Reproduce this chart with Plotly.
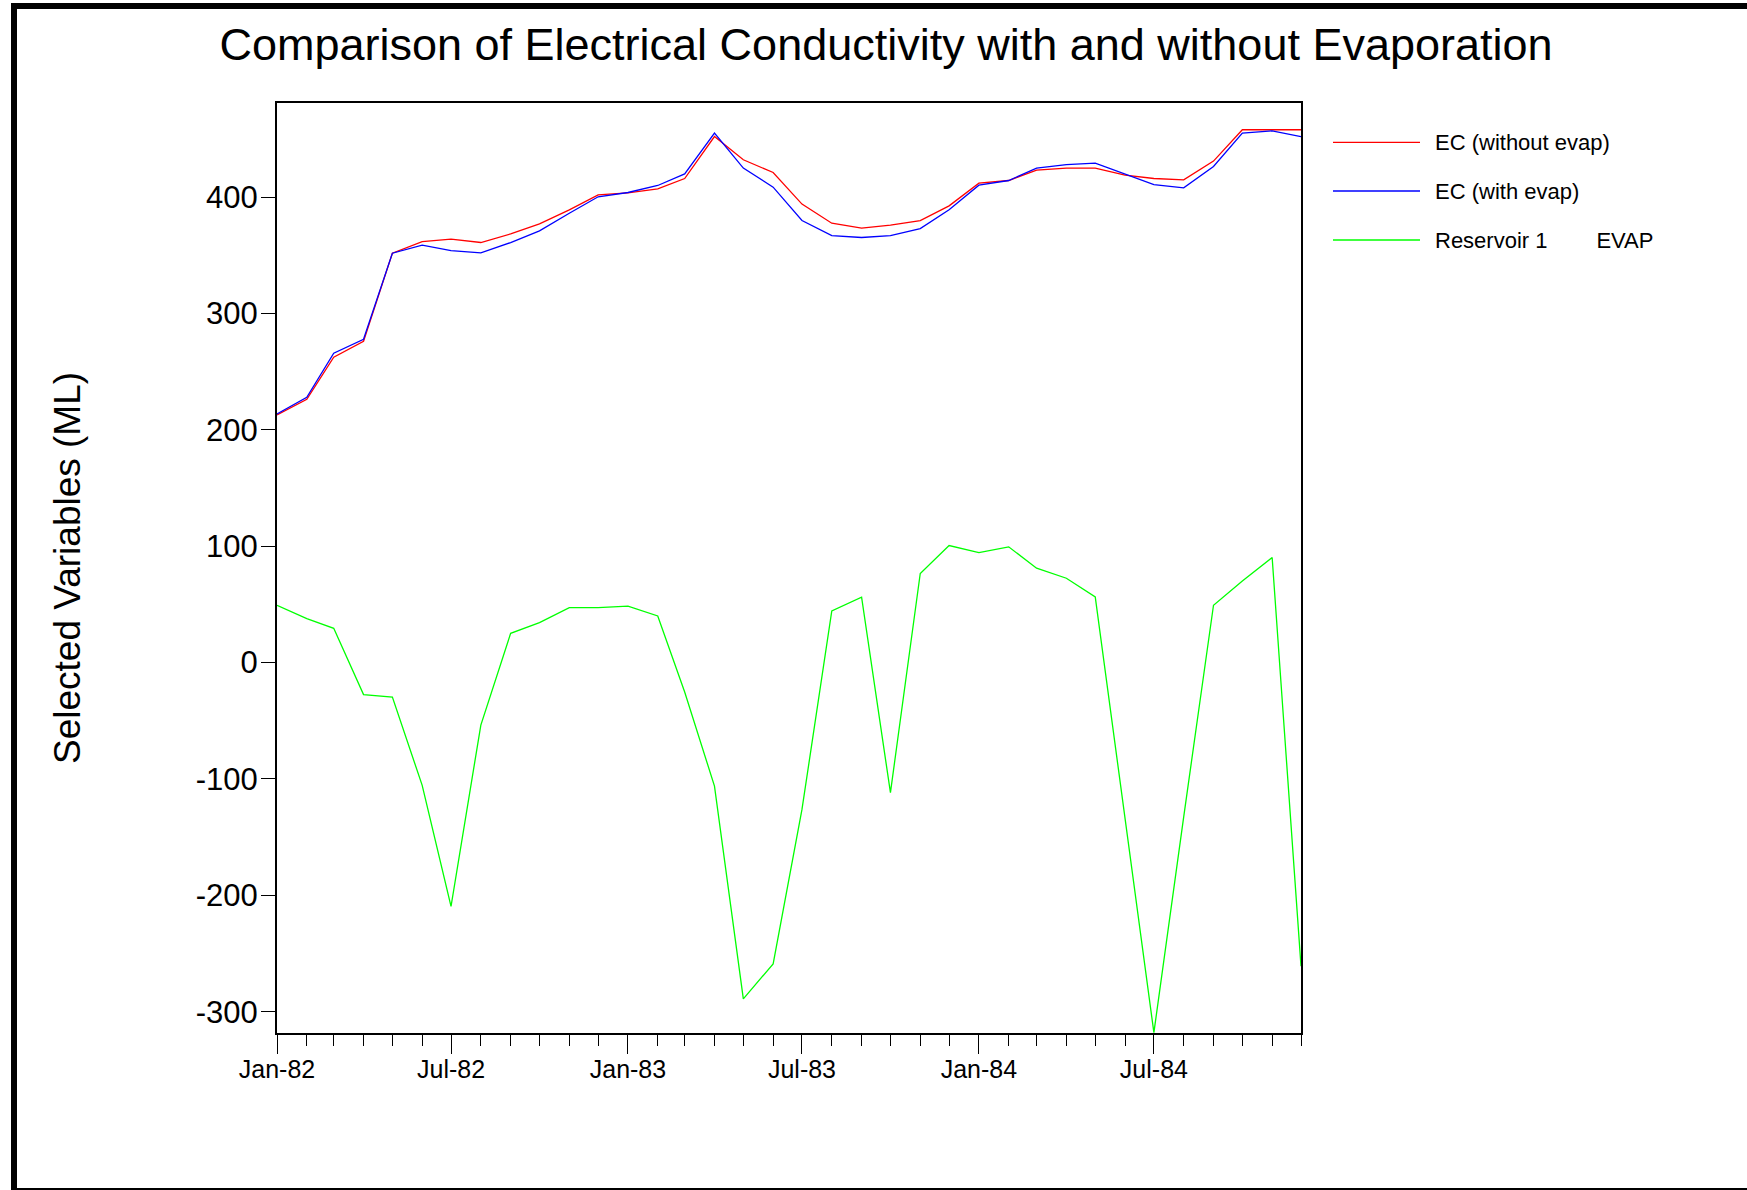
import plotly.graph_objects as go
import pandas as pd

# ---------------- data ----------------
months = pd.date_range("1982-01-01", "1984-12-01", freq="MS")

ec_without_evap = [212.8, 226.3, 262.4, 276.2, 351.8, 361.8, 363.9, 361.0, 368.4, 377.0,
                   389.1, 402.0, 403.7, 407.1, 416.0, 452.1, 432.1, 421.2, 394.0, 377.6,
                   373.3, 375.9, 379.9, 392.5, 412.0, 414.3, 423.2, 424.9, 424.9, 418.9,
                   416.0, 414.9, 431.0, 457.9, 457.9, 457.9]

ec_with_evap = [213.7, 228.0, 265.9, 277.9, 351.8, 358.7, 354.1, 352.1, 361.0, 371.0,
                386.2, 400.3, 404.0, 410.0, 420.0, 455.0, 425.0, 408.6, 379.9, 367.0,
                365.3, 367.0, 373.0, 389.1, 410.3, 414.3, 424.9, 428.0, 429.2, 420.0,
                410.8, 408.0, 426.3, 455.0, 457.0, 452.0]

reservoir1_evap = [49.3, 37.8, 29.5, -27.5, -29.6, -105.5, -209.4, -53.7, 25.2, 34.4,
                   47.3, 47.3, 48.5, 40.1, -25.3, -106.1, -289.0, -258.9, -126.2, 44.4,
                   56.2, -111.8, 76.6, 100.6, 94.6, 99.5, 81.1, 72.5, 56.4, -133.3,
                   -318.0, -132.5, 49.3, 70.2, 90.3, -261.0]

series_names = ["EC (without evap)", "EC (with evap)", "Reservoir 1\u00a0\u00a0\u00a0\u00a0\u00a0\u00a0\u00a0\u00a0EVAP"]
series_colors = ["#FF0000", "#0000FF", "#00FF00"]

y_tickvals = [-300, -200, -100, 0, 100, 200, 300, 400]
y_ticktext = ["-300", "-200", "-100", "0", "100", "200", "300", "400"]

title_text = "Comparison of Electrical Conductivity with and without Evaporation"
y_title_text = "Selected Variables (ML)"

# ---------------- layout geometry ----------------
W, H = 1747, 1190
L, R, T, B = 277, 1301, 103, 1033   # plot area in pixels


def px_x(px):
    return (px - L) / (R - L)


def px_y(py):
    return (B - py) / (B - T)


REG = "Liberation Sans, Arial, sans-serif"

fig = go.Figure()
for vals, name, col in zip([ec_without_evap, ec_with_evap, reservoir1_evap], series_names, series_colors):
    fig.add_trace(go.Scatter(x=months, y=vals, mode="lines", name=name,
                             line=dict(color=col, width=1.3), showlegend=False))

shapes = []
annotations = []

# outer thick frame (right side beyond canvas)
shapes.append(dict(type="rect", xref="paper", yref="paper",
                   x0=px_x(14), x1=px_x(1770), y0=px_y(6), y1=px_y(1191),
                   line=dict(color="black", width=6), fillcolor="rgba(0,0,0,0)", layer="above"))

# manual legend
leg_rows = [142.3, 191.0, 240.0]
for name, col, ry in zip(series_names, series_colors, leg_rows):
    shapes.append(dict(type="line", xref="paper", yref="paper",
                       x0=px_x(1333), x1=px_x(1420), y0=px_y(ry), y1=px_y(ry),
                       line=dict(color=col, width=1.3)))
    annotations.append(dict(xref="paper", yref="paper", x=px_x(1433), y=px_y(ry),
                            xanchor="left", yanchor="middle", showarrow=False,
                            text=name, font=dict(family=REG, size=22, color="black")))

# y axis title
annotations.append(dict(xref="paper", yref="paper", x=px_x(67), y=0.5,
                        xanchor="center", yanchor="middle", showarrow=False, textangle=-90,
                        text=y_title_text, font=dict(family=REG, size=37, color="black")))

fig.update_layout(
    width=W, height=H, autosize=False,
    margin=dict(l=L, r=W - R, t=T, b=H - B, pad=0),
    paper_bgcolor="white", plot_bgcolor="white",
    title=dict(text=title_text, x=886 / W, xref="container", xanchor="center",
               y=1 - 44.6 / H, yref="container", yanchor="middle",
               font=dict(family=REG, size=45, color="black")),
    shapes=shapes, annotations=annotations,
    showlegend=False,
)

fig.update_xaxes(
    type="date", range=[months[0], months[-1]],
    dtick="M6", tick0=months[0], tickformat="%b-%y",
    ticks="outside", ticklen=19, tickwidth=1.3, tickcolor="black",
    minor=dict(dtick="M1", ticks="outside", ticklen=11, tickwidth=1.3, tickcolor="black", showgrid=False),
    showgrid=False, zeroline=False,
    showline=True, linecolor="black", linewidth=2, mirror=True,
    tickfont=dict(family=REG, size=25, color="black"),
    ticklabelstandoff=-6,
)

fig.update_yaxes(
    range=[-318.3, 480.9],
    tickmode="array", tickvals=y_tickvals, ticktext=y_ticktext,
    ticks="outside", ticklen=14, tickwidth=1.3, tickcolor="black",
    showgrid=False, zeroline=False,
    showline=True, linecolor="black", linewidth=2, mirror=True,
    tickfont=dict(family=REG, size=31, color="black"),
    ticklabelstandoff=-3,
)

fig.write_html("out.html",
               config={"displayModeBar": False},
               post_script="document.body.style.margin='0px';document.body.style.padding='0px';")
